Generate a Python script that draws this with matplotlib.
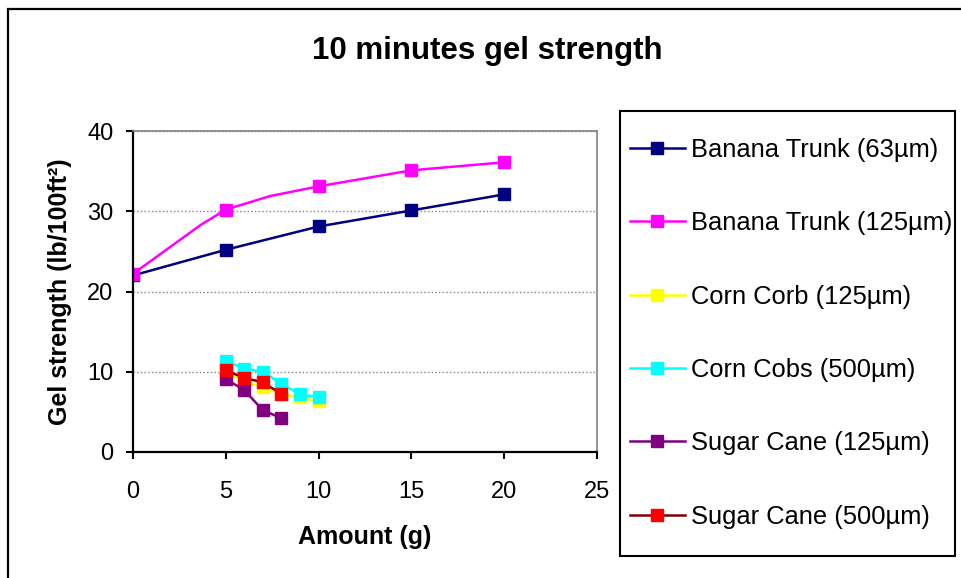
import matplotlib.pyplot as plt
from matplotlib.patches import Rectangle

plt.rcParams['font.family'] = ['Liberation Sans', 'DejaVu Sans']

# data
banana63_x = [0, 5, 10, 15, 20]
banana63_y = [22.0, 25.2, 28.1, 30.1, 32.1]
banana125_x = [0, 3.65, 5, 7.4, 10, 15, 20]
banana125_y = [22.2, 28.3, 30.2, 31.9, 33.1, 35.1, 36.1]
banana125_marked = [0, 2, 4, 5, 6]
corncorb_x = [5, 6, 7, 8, 9, 10]
corncorb_y = [10.0, 8.8, 8.1, 7.2, 6.8, 6.3]
corncobs_x = [5, 6, 7, 8, 9, 10]
corncobs_y = [11.3, 10.4, 10.0, 8.5, 7.2, 6.8]
cane125_x = [5, 6, 7, 8]
cane125_y = [9.1, 7.7, 5.2, 4.2]
cane500_x = [5, 6, 7, 8]
cane500_y = [10.2, 9.2, 8.7, 7.2]

labels = ['Banana Trunk (63µm)', 'Banana Trunk (125µm)', 'Corn Corb (125µm)',
          'Corn Cobs (500µm)', 'Sugar Cane (125µm)', 'Sugar Cane (500µm)']

fig = plt.figure(figsize=(9.61, 5.78), dpi=100)
ax = fig.add_axes([133 / 961, 1 - 452 / 578, (597 - 133) / 961, (452 - 131) / 578])

ms = 8.5
lw = 1.8
h1, = ax.plot(banana63_x, banana63_y, color='#000080', lw=lw, marker='s', ms=ms)
h2, = ax.plot(banana125_x, banana125_y, color='#FF00FF', lw=lw, marker='s', ms=ms,
              markevery=banana125_marked)
h3, = ax.plot(corncorb_x, corncorb_y, color='#FFFF00', lw=lw, marker='s', ms=ms)
h4, = ax.plot(corncobs_x, corncobs_y, color='#00FFFF', lw=lw, marker='s', ms=ms)
h5, = ax.plot(cane125_x, cane125_y, color='#800080', lw=lw, marker='s', ms=ms)
h6, = ax.plot(cane500_x, cane500_y, color='#800000', lw=lw, marker='s', ms=ms,
              mfc='#FF0000', mec='#FF0000')

ax.set_xlim(0, 25)
ax.set_ylim(0, 40)
ax.set_xticks([0, 5, 10, 15, 20, 25])
ax.set_yticks([0, 10, 20, 30, 40])
ax.yaxis.grid(True, color='#808080', linestyle=':', lw=1)
ax.set_axisbelow(True)

for s in ['left', 'bottom']:
    ax.spines[s].set_color('black')
    ax.spines[s].set_linewidth(1.6)
for s in ['top', 'right']:
    ax.spines[s].set_color('#808080')
    ax.spines[s].set_linewidth(1.2)

ax.tick_params(axis='both', direction='out', length=5, width=1.5, labelsize=17)
ax.tick_params(axis='x', pad=16)
ax.tick_params(axis='y', pad=9)

ax.set_xlabel('Amount (g)', fontsize=18, fontweight='bold', labelpad=16)
ax.set_ylabel('Gel strength (lb/100ft²)', fontsize=18, fontweight='bold', labelpad=11)
fig.text(487 / 961, 1 - 51 / 578, '10 minutes gel strength', fontsize=22.5,
         fontweight='bold', ha='center', va='center')

leg = fig.legend([h1, h2, h3, h4, h5, h6], labels, loc='upper left',
                 bbox_to_anchor=(630 / 961, 1 - 138 / 578), fontsize=18.4,
                 frameon=False, labelspacing=1.93, handlelength=2.15,
                 handletextpad=0.25, borderpad=0, borderaxespad=0)

# legend frame
fig.patches.append(Rectangle((620 / 961, 1 - 556 / 578), 335 / 961, 445 / 578,
                             fill=False, edgecolor='black', lw=1.5,
                             transform=fig.transFigure))

# chart border (cut off at right and bottom)
fig.patches.append(Rectangle((8 / 961, -0.1), 1.2, 1.1 - 9 / 578, fill=False,
                             edgecolor='black', lw=1.6, transform=fig.transFigure))

fig.savefig('out.png', dpi=100)
